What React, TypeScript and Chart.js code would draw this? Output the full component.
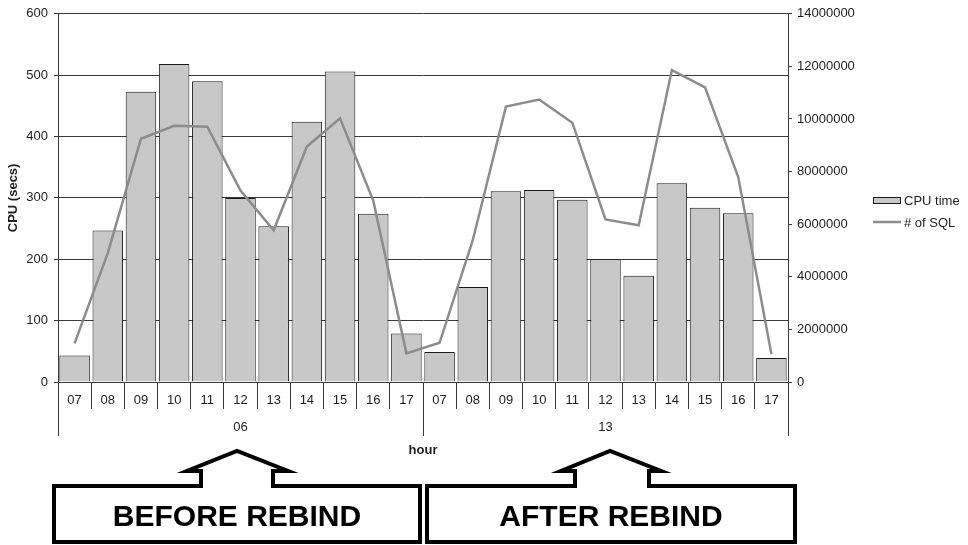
import React, { useEffect, useRef } from 'react';
import { Chart, registerables } from 'chart.js';

Chart.register(...registerables);

const hours = ['07', '08', '09', '10', '11', '12', '13', '14', '15', '16', '17', '07', '08', '09', '10', '11', '12', '13', '14', '15', '16', '17'];
const groups = ['06', '13'];
const groupSize = 11;
const cpuTime = [43, 247, 473, 518, 490, 300, 254, 424, 506, 274, 79, 49, 155, 311, 313, 297, 200, 173, 324, 284, 275, 39];
const sqlCount = [1470000, 4900000, 9250000, 9740000, 9710000, 7280000, 5770000, 8950000, 10030000, 6900000, 1090000, 1490000, 5390000, 10470000, 10740000, 9860000, 6180000, 5960000, 11860000, 11200000, 7790000, 1060000];
const seriesNames = ['CPU time', '# of SQL'];
const annotations = ['BEFORE REBIND', 'AFTER REBIND'];

const FONT = "'Liberation Sans', Arial, sans-serif";
const FS = 13;
const TEXT = '#1e1e1e';
const BAR_FILL = '#c8c8c8';
const BAR_EDGE = '#1a1a1a';
const LINE = '#8c8c8c';
const GRID = '#3a3a3a';

const overlay = {
  id: 'overlay',
  afterDraw(chart: any) {
    const ctx = chart.ctx as CanvasRenderingContext2D;
    const x = chart.scales.x;
    const area = chart.chartArea;
    const step = x.getPixelForValue(1) - x.getPixelForValue(0);
    ctx.save();
    // long group separators
    ctx.strokeStyle = GRID;
    ctx.lineWidth = 1;
    const bounds: number[] = [];
    for (let g = 0; g <= groups.length; g++) {
      const idx = g * groupSize;
      bounds.push(x.getPixelForValue(0) - step / 2 + idx * step);
    }
    bounds.forEach((bx) => {
      const px = Math.round(bx) + 0.5;
      ctx.beginPath();
      ctx.moveTo(px, area.bottom);
      ctx.lineTo(px, area.bottom + 54);
      ctx.stroke();
    });
    // group labels
    ctx.fillStyle = TEXT;
    ctx.font = `${FS}px ${FONT}`;
    ctx.textAlign = 'center';
    ctx.textBaseline = 'middle';
    groups.forEach((g, i) => {
      const cx = (bounds[i] + bounds[i + 1]) / 2;
      ctx.fillText(g, cx, area.bottom + 45);
    });
    // legend
    ctx.textAlign = 'left';
    ctx.fillStyle = BAR_FILL;
    ctx.fillRect(873, 197, 28, 6);
    ctx.strokeStyle = BAR_EDGE;
    ctx.lineWidth = 1;
    ctx.strokeRect(873.5, 197.5, 27, 6);
    ctx.fillStyle = TEXT;
    ctx.fillText(seriesNames[0], 904, 201);
    ctx.strokeStyle = LINE;
    ctx.lineWidth = 2.5;
    ctx.beginPath();
    ctx.moveTo(873, 222);
    ctx.lineTo(901, 222);
    ctx.stroke();
    ctx.fillText(seriesNames[1], 904, 223);
    // annotation boxes
    ctx.strokeStyle = '#000';
    ctx.lineWidth = 4;
    ctx.lineJoin = 'miter';
    const boxes = [
      { l: 54, r: 420, sl: 201, sr: 273, shl: 187, shr: 288, ax: 237 },
      { l: 427, r: 795, sl: 575, sr: 649, shl: 561, shr: 661, ax: 610 },
    ];
    boxes.forEach((b, i) => {
      ctx.beginPath();
      ctx.moveTo(b.l, 486);
      ctx.lineTo(b.sl, 486);
      ctx.lineTo(b.sl, 471);
      ctx.lineTo(b.shl, 471);
      ctx.lineTo(b.ax, 451);
      ctx.lineTo(b.shr, 471);
      ctx.lineTo(b.sr, 471);
      ctx.lineTo(b.sr, 486);
      ctx.lineTo(b.r, 486);
      ctx.lineTo(b.r, 542);
      ctx.lineTo(b.l, 542);
      ctx.closePath();
      ctx.stroke();
      ctx.fillStyle = '#000';
      ctx.font = `bold 30px ${FONT}`;
      ctx.textAlign = 'center';
      ctx.textBaseline = 'alphabetic';
      ctx.fillText(annotations[i], (b.l + b.r) / 2, 526);
    });
    ctx.restore();
  },
};

export default function App() {
  const ref = useRef<HTMLCanvasElement>(null);
  useEffect(() => {
    const chart = new Chart(ref.current!, {
      type: 'bar',
      data: {
        labels: hours,
        datasets: [
          {
            type: 'line',
            label: seriesNames[1],
            data: sqlCount,
            yAxisID: 'y1',
            borderColor: LINE,
            borderWidth: 2.5,
            pointRadius: 0,
            tension: 0,
            fill: false,
            order: 0,
          } as any,
          {
            type: 'bar',
            label: seriesNames[0],
            data: cpuTime,
            yAxisID: 'y',
            backgroundColor: BAR_FILL,
            borderColor: BAR_EDGE,
            borderWidth: 1,
            barPercentage: 0.92,
            categoryPercentage: 1,
            order: 1,
          } as any,
        ],
      },
      options: {
        responsive: false,
        animation: false,
        devicePixelRatio: 1,
        layout: { padding: { top: 13, left: 0, right: 0, bottom: 85 } },
        plugins: { legend: { display: false }, tooltip: { enabled: false } },
        scales: {
          x: {
            type: 'category',
            offset: true,
            grid: { display: true, offset: true, drawOnChartArea: false, drawTicks: true, tickLength: 27, color: GRID, lineWidth: 1 },
            border: { display: false },
            ticks: { padding: -16, maxRotation: 0, autoSkip: false, color: TEXT, font: { family: FONT, size: FS } },
            title: { display: true, text: 'hour', color: TEXT, font: { family: FONT, size: FS, weight: 'bold' }, padding: { top: 0, bottom: 2 } },
            afterFit: (s: any) => { s.height = 78; },
          },
          y: {
            position: 'left',
            min: 0,
            max: 600,
            ticks: { stepSize: 100, padding: 6, color: TEXT, font: { family: FONT, size: FS } },
            grid: { color: GRID, lineWidth: 1, drawTicks: true, tickLength: 4 },
            border: { display: true, color: GRID },
            title: { display: true, text: 'CPU (secs)', color: TEXT, font: { family: FONT, size: FS, weight: 'bold' }, padding: { top: 6, bottom: 0 } },
            afterFit: (s: any) => { s.width = 58; },
          },
          y1: {
            position: 'right',
            min: 0,
            max: 14000000,
            ticks: { stepSize: 2000000, padding: 5, color: TEXT, font: { family: FONT, size: FS }, callback: (v: any) => String(v) },
            grid: { drawOnChartArea: false, drawTicks: true, tickLength: 4, color: GRID },
            border: { display: true, color: GRID },
            afterFit: (s: any) => { s.width = 180; },
          },
        },
      } as any,
      plugins: [overlay],
    });
    return () => chart.destroy();
  }, []);
  return (
    <div style={{ position: 'absolute', left: 0, top: 0, width: 968, height: 545, background: '#fff' }}>
      <canvas ref={ref} width={968} height={545} style={{ display: 'block', width: 968, height: 545 }} />
    </div>
  );
}
